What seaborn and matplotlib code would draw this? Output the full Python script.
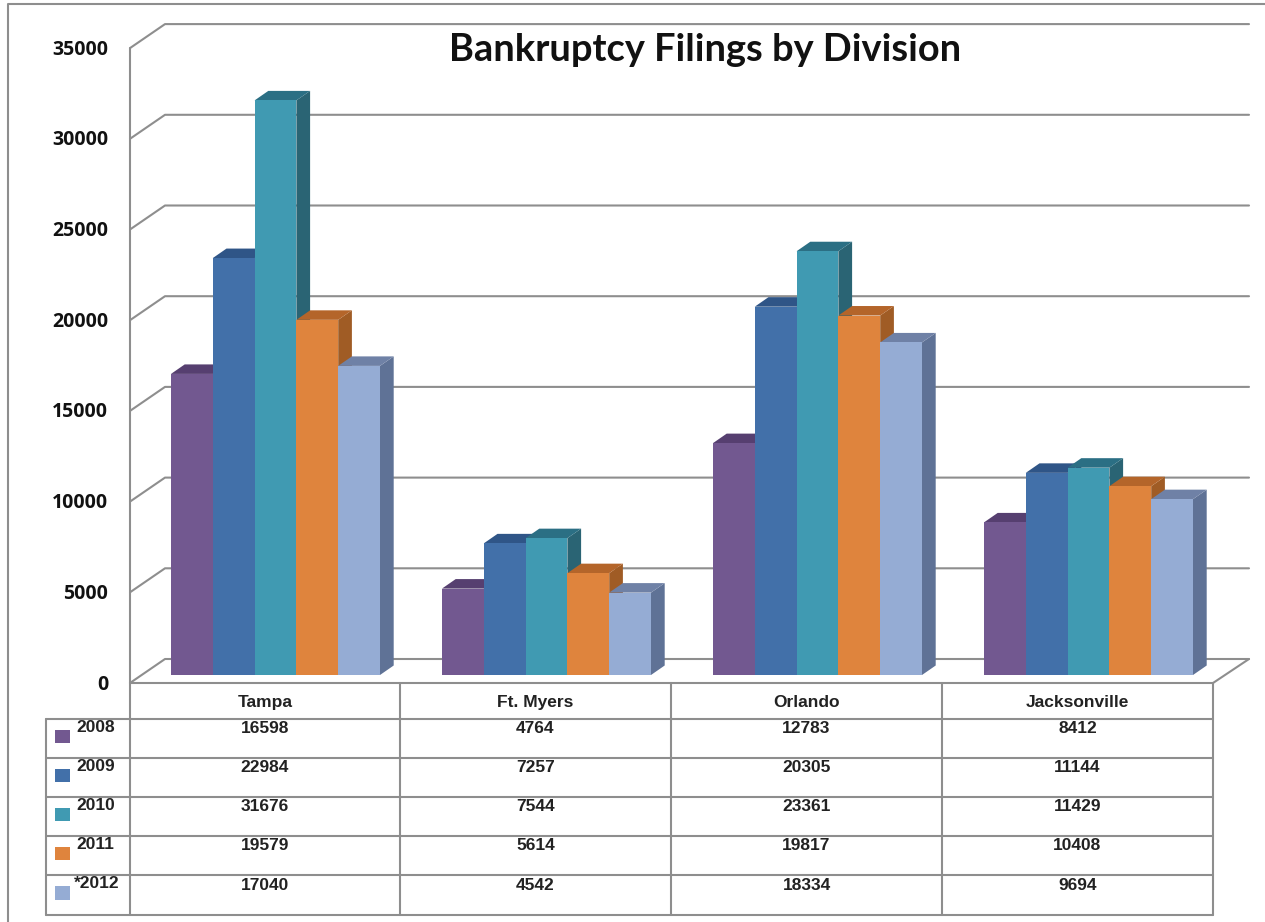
import matplotlib
matplotlib.use("Agg")
import matplotlib.pyplot as plt
from matplotlib.patches import Polygon, Rectangle
import pandas as pd
import seaborn as sns

divisions = ["Tampa", "Ft. Myers", "Orlando", "Jacksonville"]
years = ["2008", "2009", "2010", "2011", "*2012"]
v2008 = [16598, 4764, 12783, 8412]
v2009 = [22984, 7257, 20305, 11144]
v2010 = [31676, 7544, 23361, 11429]
v2011 = [19579, 5614, 19817, 10408]
v2012 = [17040, 4542, 18334, 9694]
yticks = [0, 5000, 10000, 15000, 20000, 25000, 30000, 35000]
title = "Bankruptcy Filings by Division"

front = ["#725890", "#4270A9", "#409AB2", "#DF843D", "#95ACD4"]
top_c = ["#563F70", "#2F5587", "#2B6F84", "#B4652A", "#6F81A6"]
side_c = ["#4E3A66", "#2A4D7A", "#2A6474", "#A05C25", "#5F7296"]
GREY = "#8E8E8E"

W, H = 1265, 922
sns.set_theme(style="white")
plt.rcParams["font.family"] = ["Liberation Sans", "DejaVu Sans"]

rows = [v2008, v2009, v2010, v2011, v2012]
df = pd.DataFrame(
    [(d, y, r[i]) for y, r in zip(years, rows) for i, d in enumerate(divisions)],
    columns=["division", "year", "filings"],
)

fig = plt.figure(figsize=(W / 100, H / 100), dpi=100, facecolor="white")

# pixel-space layer for walls, frame and data table
bg = fig.add_axes([0, 0, 1, 1], zorder=0)
bg.set_xlim(0, W)
bg.set_ylim(H, 0)
bg.axis("off")

# chart geometry in pixels
PX_PER_UNIT = 0.01814
BASE_Y = 675          # bar baseline
FRONT_Y0 = 683        # front-edge zero line
BACK_Y0 = 659         # back-wall zero line
WALL_L, WALL_BACK, WALL_R, FLOOR_R = 130, 165, 1249, 1213
line = dict(color=GREY, lw=1.5, solid_capstyle="round")

# outer frame
bg.plot([8, 8, W], [H, 4, 4], **line)

# walls and gridlines
for v in yticks:
    yf = FRONT_Y0 - v * PX_PER_UNIT
    yb = BACK_Y0 - v * PX_PER_UNIT
    bg.plot([WALL_L, WALL_BACK, WALL_R], [yf, yb, yb], **line)
    bg.text(108, yf + 1.5, str(v), ha="right", va="center", fontsize=14,
            fontweight="bold", family=["Open Sans", "DejaVu Sans"], color="#111111")
bg.plot([WALL_L, WALL_L], [FRONT_Y0 - yticks[-1] * PX_PER_UNIT, FRONT_Y0], **line)
bg.plot([WALL_R, FLOOR_R], [BACK_Y0, FRONT_Y0], **line)

# title
bg.text(705, 50, title, ha="center", va="center", fontsize=27.4, fontweight="bold",
        family=["Lato", "DejaVu Sans"], color="#111111")

# data table
col_x = [130, 400, 671, 942, 1213]
row_y = [683, 718.5, 757.5, 796.5, 835.5, 875, 914.5]
LEFT_X = 46
for y in row_y[:1]:
    bg.plot([col_x[0], col_x[-1]], [y, y], **line)
for y in row_y[1:]:
    bg.plot([LEFT_X, col_x[-1]], [y, y], **line)
for x in col_x:
    bg.plot([x, x], [row_y[0], row_y[-1]], **line)
bg.plot([LEFT_X, LEFT_X], [row_y[1], row_y[-1]], **line)

tbl = dict(ha="center", va="center", fontsize=12.5, fontweight="bold", color="#222222")
for i, d in enumerate(divisions):
    cx = (col_x[i] + col_x[i + 1]) / 2
    bg.text(cx, 702.5, d, **tbl)
    for j, r in enumerate(rows):
        bg.text(cx, row_y[j + 1] + 10, str(r[i]), **tbl)
for j, y in enumerate(years):
    top = row_y[j + 1]
    bg.add_patch(Rectangle((55, top + 11), 15, 13.5, fc=front[j], ec="none"))
    bg.text(74 if y.startswith("*") else 76, top + 8.5, y, ha="left", va="center",
            fontsize=12.5, fontweight="bold", color="#222222")

# bars
CENTER0, STEP = 275.5, 271.0
ax = fig.add_axes([WALL_L / W, 1 - BASE_Y / H, (FLOOR_R - WALL_L) / W,
                   35000 * PX_PER_UNIT / H], zorder=1)
ax.patch.set_alpha(0)
sns.barplot(data=df, x="division", y="filings", hue="year", hue_order=years,
            order=divisions, palette=front, width=209 / STEP, gap=0, saturation=1,
            legend=False, ax=ax, linewidth=0)
ax.set_xlim((WALL_L - CENTER0) / STEP, (FLOOR_R - CENTER0) / STEP)
ax.set_ylim(0, 35000)
ax.axis("off")

DX = 13.7 / STEP
DY = 9.5 / PX_PER_UNIT
for h, cont in enumerate(ax.containers):
    for bar in cont.patches:
        x0, w, t = bar.get_x(), bar.get_width(), bar.get_height()
        x1 = x0 + w
        z = 3 + 3 * h
        ax.add_patch(Polygon([(x1, 0), (x1 + DX, DY), (x1 + DX, t + DY), (x1, t)],
                             closed=True, fc=side_c[h], ec="none", zorder=z, clip_on=False))
        ax.add_patch(Polygon([(x0, t), (x0 + DX, t + DY), (x1 + DX, t + DY), (x1, t)],
                             closed=True, fc=top_c[h], ec="none", zorder=z + 1, clip_on=False))
        bar.set_zorder(z + 2)
        bar.set_clip_on(False)

fig.savefig("out.png", dpi=100)
